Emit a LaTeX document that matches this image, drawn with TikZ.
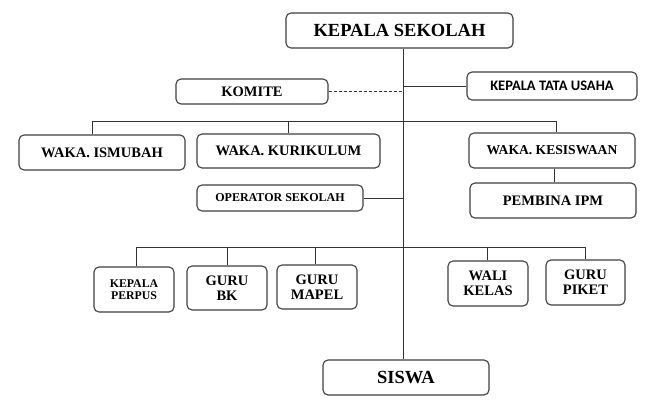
\documentclass[tikz,border=0pt]{standalone}
\usepackage{fontspec}
\setmainfont{Liberation Serif}
\newfontfamily\calfont{Carlito}
\begin{document}
\begin{tikzpicture}[x=1pt,y=-1pt,
  box/.style={draw=black!75, line width=1.1pt, rounded corners=5pt, inner sep=0pt, align=center, font=\bfseries},
  conn/.style={draw=black!80, line width=1pt},
  big/.style={font=\bfseries\fontsize{18.5}{19}\selectfont},
  mid/.style={font=\bfseries\fontsize{14.5}{15}\selectfont},
  sml/.style={font=\bfseries\fontsize{12}{13}\selectfont},
  tiny/.style={font=\bfseries\fontsize{11.8}{12.5}\selectfont}]
\useasboundingbox (0,0) rectangle (657,410);
\fill[white] (0,0) rectangle (657,410);
\node[box,big,minimum width=227pt,minimum height=35pt] (ks) at (399.5,30.5) {KEPALA SEKOLAH};
\node[box,mid,minimum width=152pt,minimum height=25pt] (komite) at (252,91.5) {KOMITE};
\node[box,minimum width=170pt,minimum height=28pt,font=\calfont\bfseries\fontsize{14.5}{15}\selectfont] (ktu) at (552,86) {KEPALA TATA USAHA};
\node[box,mid,minimum width=166pt,minimum height=35pt] (ismubah) at (102,152.5) {WAKA. ISMUBAH};
\node[box,mid,minimum width=183pt,minimum height=34pt] (kurikulum) at (288.5,151) {WAKA. KURIKULUM};
\node[box,mid,minimum width=166pt,minimum height=35pt,font=\bfseries\fontsize{13.6}{15}\selectfont] (kesiswaan) at (552,150.5) {WAKA. KESISWAAN};
\node[box,sml,minimum width=166pt,minimum height=26pt] (operator) at (280,198) {OPERATOR SEKOLAH};
\node[box,mid,minimum width=166pt,minimum height=35pt] (pembina) at (553,200.5) {PEMBINA IPM};
\node[box,tiny,minimum width=80pt,minimum height=45pt] (perpus) at (134,289.5) {KEPALA\\PERPUS};
\node[box,mid,minimum width=80pt,minimum height=44pt] (bk) at (227,288) {GURU\\BK};
\node[box,mid,minimum width=80pt,minimum height=44pt] (mapel) at (317,287) {GURU\\MAPEL};
\node[box,mid,minimum width=80pt,minimum height=45pt] (wali) at (488,283.5) {WALI\\KELAS};
\node[box,mid,minimum width=79pt,minimum height=45pt] (piket) at (585.5,282.5) {GURU\\PIKET};
\node[box,big,minimum width=166pt,minimum height=35pt] (siswa) at (406,377.5) {SISWA};
\coordinate (mx) at (403,0);
\coordinate (b1) at (0,121);
\coordinate (b2) at (0,247);
% main spine
\draw[conn] (ks.south -| mx) -- (siswa.north -| mx);
% komite dashed
\draw[conn,dashed,dash pattern=on 3pt off 2pt,line width=0.8pt] (komite.east) -- (komite.east -| mx);
% KTU
\draw[conn] (ktu.west) -- (ktu.west -| mx);
% waka bus
\draw[conn] ([xshift=-10pt]ismubah.north) |- ([xshift=4pt]kesiswaan.north |- b1) -- ([xshift=4pt]kesiswaan.north);
\draw[conn] (kurikulum.north) -- (kurikulum.north |- b1);
% kesiswaan to pembina
\draw[conn] ([xshift=2pt]kesiswaan.south) -- ([xshift=2pt]kesiswaan.south |- pembina.north);
% operator
\draw[conn] (operator.east) -- (operator.east -| mx);
% bottom bus
\draw[conn] ([xshift=2pt]perpus.north) |- (piket.north |- b2) -- (piket.north);
\draw[conn] (bk.north) -- (bk.north |- b2);
\draw[conn] ([xshift=-2pt]mapel.north) -- ([xshift=-2pt]mapel.north |- b2);
\draw[conn] ([xshift=-1pt]wali.north) -- ([xshift=-1pt]wali.north |- b2);
\end{tikzpicture}
\end{document}
